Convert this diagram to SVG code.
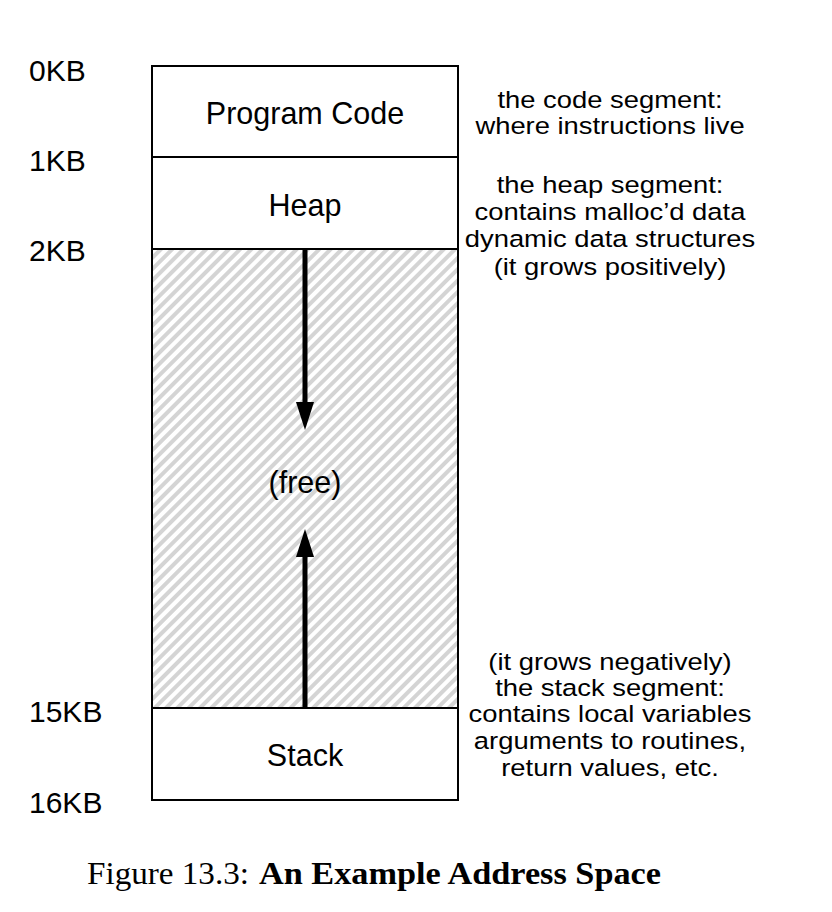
<svg xmlns="http://www.w3.org/2000/svg" width="832" height="912" viewBox="0 0 832 912">
<style>
.t{font-family:"Liberation Sans",Arial,Helvetica,sans-serif;fill:#000}
.lb{font-size:30.5px}
.ad{font-size:30px}
.nt{font-size:23.5px}
.m{text-anchor:middle}
.box{fill:#fff;stroke:#000;stroke-width:2}
.cap{font-family:"Liberation Serif","Times New Roman",serif;font-size:31px;fill:#000}
</style>
<defs>
<pattern id="hatch" patternUnits="userSpaceOnUse" width="8" height="8" patternTransform="rotate(45)">
<rect width="8" height="8" fill="#fff"/>
<rect x="0" y="0" width="4" height="8" fill="#d4d4d4"/>
</pattern>
</defs>
<rect width="832" height="912" fill="#fff"/>
<g id="code"><rect class="box" x="152" y="66" width="306" height="91"/><text class="t lb m" x="305" y="124">Program Code</text></g>
<g id="heap"><rect class="box" x="152" y="157" width="306" height="92"/><text class="t lb m" x="305" y="216">Heap</text></g>
<g id="free"><rect x="152" y="249" width="306" height="459" fill="url(#hatch)" stroke="#000" stroke-width="2"/><text class="t lb m" x="305" y="493">(free)</text></g>
<g id="stack"><rect class="box" x="152" y="708" width="306" height="92"/><text class="t lb m" x="305" y="766">Stack</text></g>
<g id="connectors">
<line x1="305" y1="249" x2="305" y2="404" stroke="#000" stroke-width="5"/>
<path d="M296,402 L314,402 L305,430 Z"/>
<line x1="305" y1="708" x2="305" y2="555" stroke="#000" stroke-width="5"/>
<path d="M296,557 L314,557 L305,529 Z"/>
</g>
<g id="addr">
<text class="t ad" x="29" y="81">0KB</text>
<text class="t ad" x="29" y="171">1KB</text>
<text class="t ad" x="29" y="261">2KB</text>
<text class="t ad" x="29" y="722">15KB</text>
<text class="t ad" x="29" y="813">16KB</text>
</g>
<g id="notes" transform="translate(610,0) scale(1.165,1)">
<text class="t nt m" x="0" y="108">the code segment:</text>
<text class="t nt m" x="0" y="134">where instructions live</text>
<text class="t nt m" x="0" y="193">the heap segment:</text>
<text class="t nt m" x="0" y="220">contains malloc’d data</text>
<text class="t nt m" x="0" y="247">dynamic data structures</text>
<text class="t nt m" x="0" y="275">(it grows positively)</text>
<text class="t nt m" x="0" y="670">(it grows negatively)</text>
<text class="t nt m" x="0" y="696">the stack segment:</text>
<text class="t nt m" x="0" y="722">contains local variables</text>
<text class="t nt m" x="0" y="749">arguments to routines,</text>
<text class="t nt m" x="0" y="776">return values, etc.</text>
</g>
<g id="caption">
<text class="cap" x="87" y="884" textLength="162" lengthAdjust="spacingAndGlyphs">Figure 13.3:</text>
<text class="cap" x="259" y="884" font-weight="bold" textLength="402" lengthAdjust="spacingAndGlyphs">An Example Address Space</text>
</g>
</svg>
